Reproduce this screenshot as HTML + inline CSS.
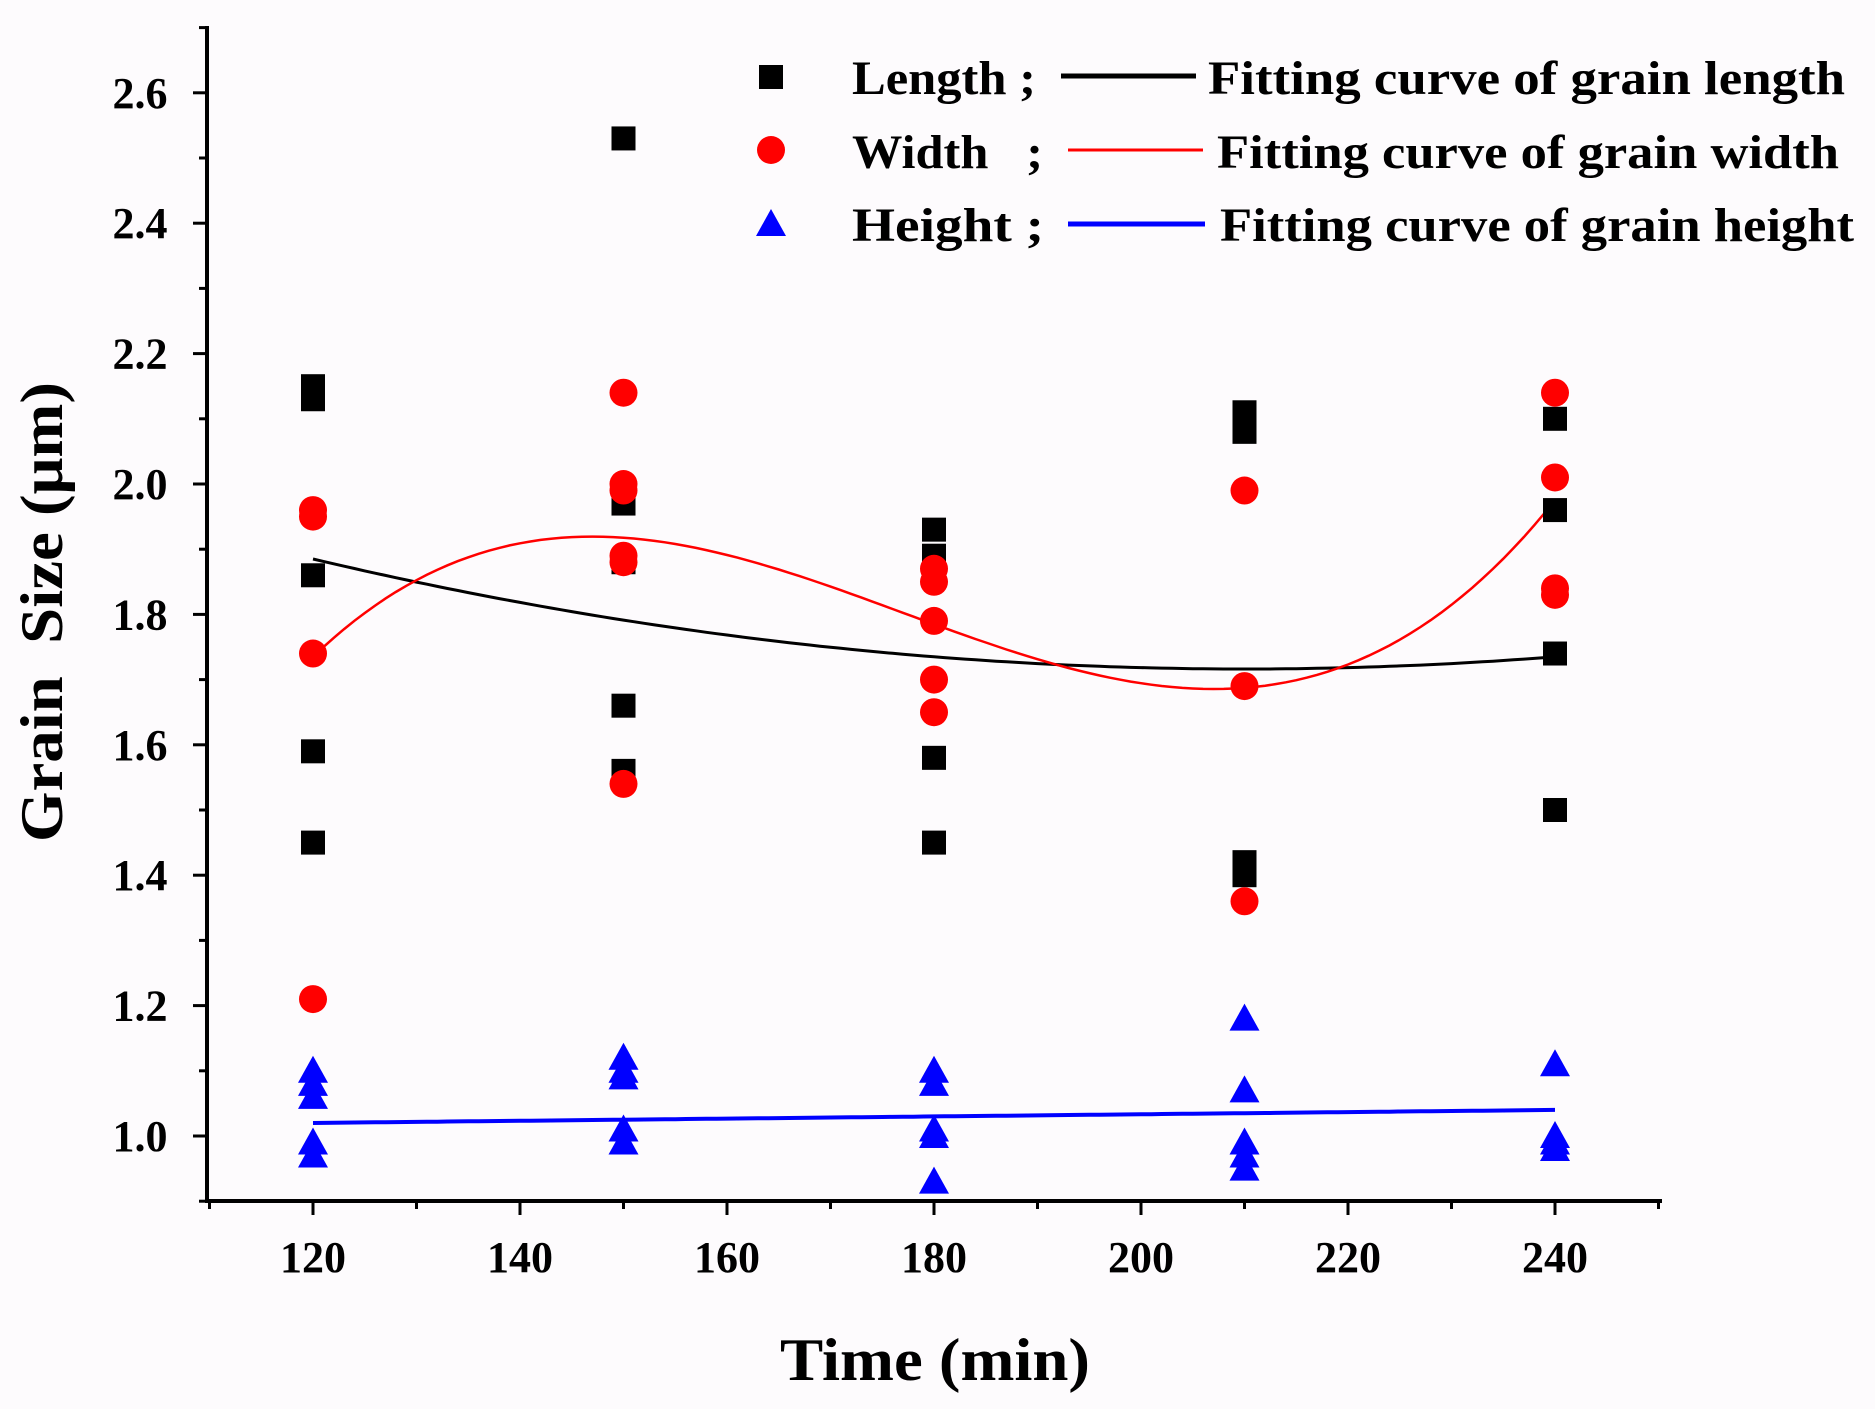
<!DOCTYPE html>
<html><head><meta charset="utf-8"><style>
html,body{margin:0;padding:0;background:#fdfbfd;}
svg{display:block;}
text{font-family:"Liberation Serif",serif;font-weight:bold;fill:#000;}
</style></head><body>
<svg id="s" width="1875" height="1409" viewBox="0 0 1875 1409" xmlns="http://www.w3.org/2000/svg">
<rect width="1875" height="1409" fill="#fdfbfd"/>
<g id="axes" stroke="#000" stroke-width="4" fill="none">
<line x1="207" y1="26" x2="207" y2="1203"/>
<line x1="205" y1="1201" x2="1662" y2="1201"/>
</g>
<g id="ticks" stroke="#000" stroke-width="3"></g>
<g id="labels" font-size="44" text-anchor="middle"></g>
<g id="curves" fill="none" stroke-width="3"></g>
<g id="pts"></g>
<text x="935" y="1380" font-size="60" text-anchor="middle" textLength="310" lengthAdjust="spacingAndGlyphs">Time (min)</text>
<text transform="translate(62,612) rotate(-90)" font-size="60" text-anchor="middle" textLength="460" lengthAdjust="spacingAndGlyphs">Grain&#160; Size (μm)</text>
<g font-size="48">
<rect x="759" y="65" width="24" height="24" fill="#000"/>
<circle cx="771" cy="150" r="14" fill="#f00"/>
<polygon points="771,209 756,236 786,236" fill="#00f"/>
<text x="852" y="94" textLength="184" lengthAdjust="spacingAndGlyphs">Length ;</text>
<text x="852" y="168" textLength="191" lengthAdjust="spacingAndGlyphs">Width &#160; ;</text>
<text x="852" y="241" textLength="192" lengthAdjust="spacingAndGlyphs">Height ;</text>
<line x1="1061" y1="76" x2="1196" y2="76" stroke="#000" stroke-width="5"/>
<line x1="1068" y1="150" x2="1203" y2="150" stroke="#f00" stroke-width="3"/>
<line x1="1068" y1="224" x2="1205" y2="224" stroke="#00f" stroke-width="5"/>
<text x="1208" y="94" textLength="637" lengthAdjust="spacingAndGlyphs">Fitting curve of grain length</text>
<text x="1217" y="168" textLength="622" lengthAdjust="spacingAndGlyphs">Fitting curve of grain width</text>
<text x="1220" y="241" textLength="634" lengthAdjust="spacingAndGlyphs">Fitting curve of grain height</text>
</g>
</svg>
<script>
const NS="http://www.w3.org/2000/svg";
const X=t=>313+(t-120)*10.35, Y=v=>1136-(v-1)*652;
function el(p,tag,a){const e=document.createElementNS(NS,tag);for(const k in a)e.setAttribute(k,a[k]);document.getElementById(p).appendChild(e);return e;}
for(let t=110;t<=250;t+=10){const big=t%20==0;el('ticks','line',{x1:X(t),y1:1201,x2:X(t),y2:1201+(big?14:8)});
 if(big&&t>=120&&t<=240){const e=el('labels','text',{x:X(t),y:1272});e.textContent=t;}}
for(let v=0.9;v<=2.701;v+=0.1){const big=Math.round(v*10)%2==0;const y=Y(v);el('ticks','line',{x1:207,y1:y,x2:207-(big?14:8),y2:y});
 if(big&&v>0.95){const e=el('labels','text',{x:140,y:y+15});e.textContent=v.toFixed(1);}}
function curve(f,c,w){let d="";for(let t=120;t<=240;t+=1){const u=(t-180)/60;d+=(t==120?"M":"L")+X(t).toFixed(1)+","+Y(f(u)).toFixed(1);}el('curves','path',{d:d,stroke:c,'stroke-width':w});}
curve(u=>1.735-0.075*u+0.075*u*u,"#000",3);
curve(u=>1.785-0.347*u+0.07*u*u+0.467*u*u*u,"#f00",2.5);
curve(u=>1.03+0.01*u,"#00f",4);
const L={120:[2.15,2.13,1.86,1.59,1.45],150:[2.53,1.97,1.88,1.66,1.56],180:[1.93,1.89,1.58,1.45],210:[2.11,2.08,1.42,1.40],240:[2.10,1.96,1.74,1.50]};
const W={120:[1.96,1.95,1.74,1.21],150:[2.14,2.0,1.99,1.89,1.88,1.54],180:[1.87,1.85,1.79,1.70,1.65],210:[1.99,1.69,1.36],240:[2.14,2.01,1.84,1.83]};
const H={120:[1.10,1.08,1.06,0.99,0.97],150:[1.12,1.10,1.09,1.01,0.99],180:[1.10,1.08,1.01,1.00,0.93],210:[1.18,1.07,0.99,0.97,0.95],240:[1.11,1.00,0.99,0.98]};
for(const t in L)for(const v of L[t])el('pts','rect',{x:X(+t)-12,y:Y(v)-12,width:24,height:24,fill:"#000"});
for(const t in W)for(const v of W[t])el('pts','circle',{cx:X(+t),cy:Y(v),r:14,fill:"#f00"});
for(const t in H)for(const v of H[t]){const x=X(+t),y=Y(v);el('pts','polygon',{points:`${x},${y-15} ${x-15},${y+12} ${x+15},${y+12}`,fill:"#00f"});}
</script>
</body></html>
